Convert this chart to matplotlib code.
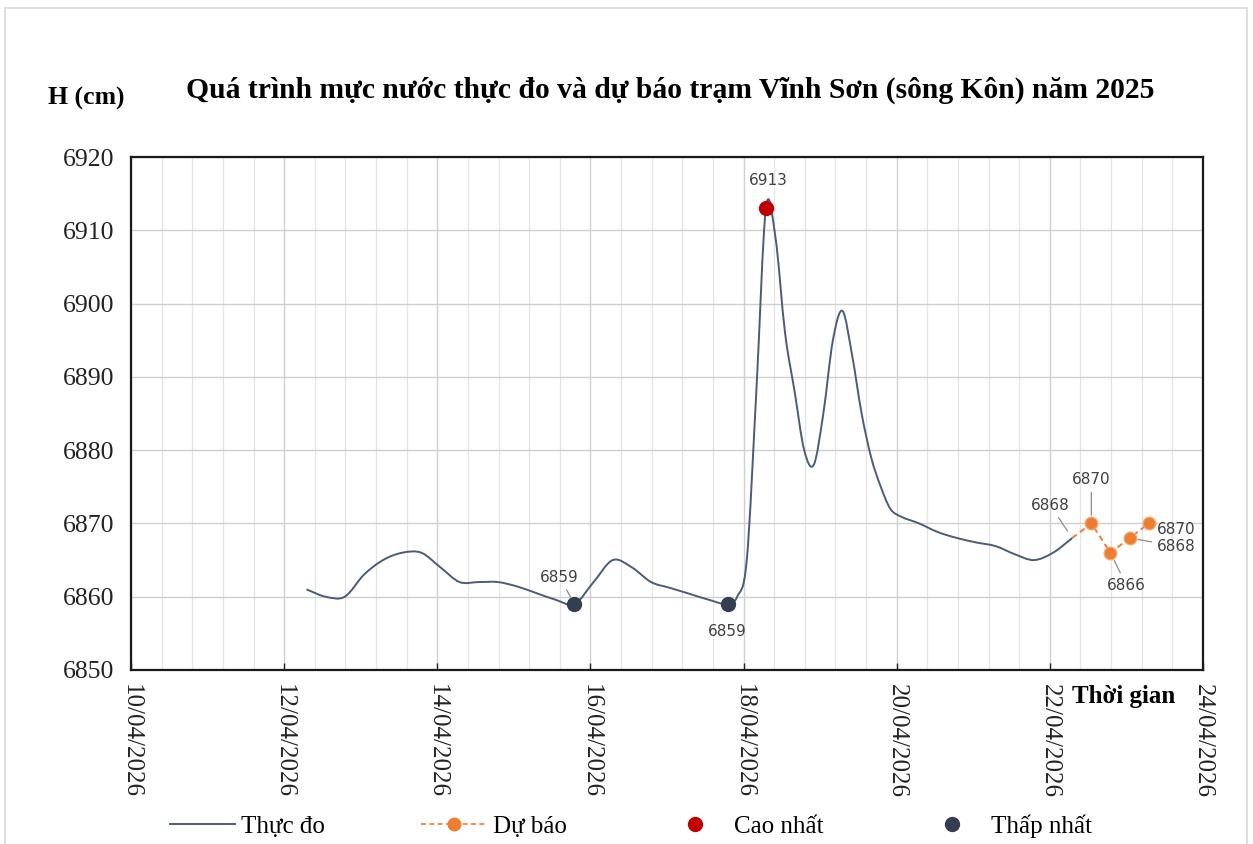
import numpy as np
import matplotlib
matplotlib.use("Agg")
import matplotlib.pyplot as plt
import matplotlib.dates as mdates
from matplotlib.path import Path
from matplotlib.patches import PathPatch, Rectangle
from matplotlib.lines import Line2D
from matplotlib.ticker import FixedLocator, FuncFormatter
from datetime import datetime

# ---------------- data ----------------
obs_times = [
    "2026-04-12 07:00", "2026-04-12 13:00", "2026-04-12 19:00",
    "2026-04-13 01:00", "2026-04-13 07:00", "2026-04-13 13:00", "2026-04-13 19:00",
    "2026-04-14 01:00", "2026-04-14 07:00", "2026-04-14 13:00", "2026-04-14 19:00",
    "2026-04-15 01:00", "2026-04-15 07:00", "2026-04-15 13:00", "2026-04-15 19:00",
    "2026-04-16 01:00", "2026-04-16 07:00", "2026-04-16 13:00", "2026-04-16 19:00",
    "2026-04-17 01:00", "2026-04-17 07:00", "2026-04-17 13:00", "2026-04-17 19:00",
    "2026-04-17 22:00", "2026-04-18 01:00", "2026-04-18 04:00", "2026-04-18 07:00",
    "2026-04-18 10:00", "2026-04-18 13:00", "2026-04-18 16:00", "2026-04-18 19:00",
    "2026-04-18 22:00", "2026-04-19 01:00", "2026-04-19 04:00", "2026-04-19 07:00",
    "2026-04-19 10:00", "2026-04-19 13:00", "2026-04-19 16:00", "2026-04-19 19:00",
    "2026-04-19 22:00", "2026-04-20 01:00",
    "2026-04-20 07:00", "2026-04-20 13:00", "2026-04-20 19:00",
    "2026-04-21 01:00", "2026-04-21 07:00", "2026-04-21 13:00", "2026-04-21 19:00",
    "2026-04-22 01:00", "2026-04-22 07:00",
]
obs_values = [
    6861, 6860, 6860,
    6863, 6865, 6866, 6866,
    6864, 6862, 6862, 6862,
    6861.4, 6860.5, 6859.6, 6859,
    6862, 6865, 6864, 6862,
    6861.2, 6860.4, 6859.6, 6859,
    6860, 6865, 6888, 6913,
    6909, 6896, 6888, 6880,
    6878, 6885, 6895, 6899,
    6893, 6885, 6879, 6875,
    6872, 6871,
    6870, 6868.8, 6868,
    6867.4, 6866.9, 6865.8, 6865,
    6866, 6868,
]
fc_times = ["2026-04-22 07:00", "2026-04-22 13:00", "2026-04-22 19:00",
            "2026-04-23 01:00", "2026-04-23 07:00"]
fc_values = [6868, 6870, 6866, 6868, 6870]

title_text = "Quá trình mực nước thực đo và dự báo trạm Vĩnh Sơn (sông Kôn) năm 2025"
y_label = "H (cm)"
x_label = "Thời gian"
legend_labels = ["Thực đo", "Dự báo", "Cao nhất", "Thấp nhất"]
x_start, x_end = "2026-04-10", "2026-04-24"
y_ticks = [6850, 6860, 6870, 6880, 6890, 6900, 6910, 6920]

# ---------------- style ----------------
SERIF = ["Liberation Serif", "DejaVu Serif"]
plt.rcParams["font.family"] = SERIF
OBS_COLOR = "#4A5B7C"
FC_COLOR = "#ED7D31"
MAX_COLOR = "#C00000"
MIN_COLOR = "#333F50"
LBL_COLOR = "#404040"

def to_num(lst):
    return np.array([mdates.date2num(datetime.strptime(s, "%Y-%m-%d %H:%M")) for s in lst])

ox = to_num(obs_times)
oy = np.array(obs_values, dtype=float)
fx = to_num(fc_times)
fy = np.array(fc_values, dtype=float)

fig = plt.figure(figsize=(12.53, 8.44), dpi=100)
ax = fig.add_axes([131/1253, 1-670/844, (1203-131)/1253, (670-157)/844])

xmin = mdates.date2num(datetime.strptime(x_start, "%Y-%m-%d"))
xmax = mdates.date2num(datetime.strptime(x_end, "%Y-%m-%d"))
ax.set_xlim(xmin, xmax)
ax.set_ylim(y_ticks[0], y_ticks[-1])

# grid
ax.xaxis.set_major_locator(FixedLocator(np.arange(xmin, xmax + 0.01, 2)))
ax.xaxis.set_minor_locator(FixedLocator(np.arange(xmin, xmax + 0.01, 0.4)))
ax.yaxis.set_major_locator(FixedLocator(y_ticks))
ax.grid(which="major", axis="both", color="#D0D0D0", linewidth=1.0)
ax.grid(which="minor", axis="x", color="#E4E4E4", linewidth=0.9)
ax.set_axisbelow(True)

ax.xaxis.set_major_formatter(FuncFormatter(lambda v, p: mdates.num2date(v).strftime("%d/%m/%Y")))
ax.tick_params(axis="x", which="major", direction="in", length=5, width=1, labelsize=18,
               labelrotation=-90, pad=10, colors="#222222")
ax.tick_params(axis="x", which="minor", length=0)
ax.tick_params(axis="y", which="major", length=0, labelsize=18.5, pad=12, colors="#222222")
for lab in ax.get_xticklabels():
    lab.set_va("top")
    lab.set_ha("center")
for sp in ax.spines.values():
    sp.set_color("#1A1A1A")
    sp.set_linewidth(1.6)

# smooth observed line (cubic Hermite -> Bezier)
n = len(ox)
m = np.zeros(n)
m[0] = (oy[1]-oy[0])/(ox[1]-ox[0])
m[-1] = (oy[-1]-oy[-2])/(ox[-1]-ox[-2])
for i in range(1, n-1):
    m[i] = (oy[i+1]-oy[i-1])/(ox[i+1]-ox[i-1])
verts = [(ox[0], oy[0])]
codes = [Path.MOVETO]
for i in range(n-1):
    h = ox[i+1]-ox[i]
    verts += [(ox[i]+h/3, oy[i]+m[i]*h/3), (ox[i+1]-h/3, oy[i+1]-m[i+1]*h/3), (ox[i+1], oy[i+1])]
    codes += [Path.CURVE4]*3
ax.add_patch(PathPatch(Path(verts, codes), facecolor="none", edgecolor=OBS_COLOR, linewidth=1.4, zorder=3))

# forecast
ax.plot(fx, fy, linestyle=(0, (3, 2)), color=FC_COLOR, linewidth=1.4, zorder=4)
ax.plot(fx[1:], fy[1:], linestyle="none", marker="o", markersize=9, color=FC_COLOR,
        markeredgecolor="#F4A66E", markeredgewidth=1.0, zorder=5)

# max / min
imax = int(np.argmax(oy))
ax.plot([ox[imax]], [oy[imax]], "o", color=MAX_COLOR, markersize=10, zorder=6)
imins = np.where(oy == oy.min())[0]
ax.plot(ox[imins], oy[imins], "o", color=MIN_COLOR, markersize=10, zorder=6)

lbl_kw = dict(textcoords="offset pixels", fontsize=11, color=LBL_COLOR, ha="center", va="center",
              family=["DejaVu Sans"])
arrow = dict(arrowstyle="-", color="#8C8C8C", lw=0.9, shrinkA=2, shrinkB=6)

ax.annotate(f"{int(oy[imax])}", (ox[imax], oy[imax]), xytext=(2, 28), **lbl_kw)
ax.annotate(f"{int(oy[imins[0]])}", (ox[imins[0]], oy[imins[0]]), xytext=(-15, 27),
            arrowprops=arrow, **lbl_kw)
ax.annotate(f"{int(oy[imins[1]])}", (ox[imins[1]], oy[imins[1]]), xytext=(0, -27), **lbl_kw)

fc_offsets = [(-22, 33), (0, 44), (16, -33), (47, -8), (27, -6)]
for xv, yv, off in zip(fx, fy, fc_offsets):
    ax.annotate(f"{int(yv)}", (xv, yv), xytext=off, arrowprops=arrow, **lbl_kw)

# texts
fig.text(670/1253, 1-90/844, title_text, ha="center", va="center", fontsize=21.3, fontweight="bold",
         family=SERIF)
fig.text(86/1253, 1-98/844, y_label, ha="center", va="center", fontsize=18.5, fontweight="bold",
         family=SERIF)
fig.text(1175/1253, 1-697/844, x_label, ha="right", va="center", fontsize=18, fontweight="bold",
         family=SERIF)

# legend
handles = [
    Line2D([], [], color=OBS_COLOR, linewidth=1.4),
    Line2D([], [], color=FC_COLOR, linewidth=1.2, linestyle=(0, (3, 2)), marker="o", markersize=9),
    Line2D([], [], color=MAX_COLOR, linestyle="none", marker="o", markersize=10),
    Line2D([], [], color=MIN_COLOR, linestyle="none", marker="o", markersize=10),
]
fig.legend(handles, legend_labels, loc="center", bbox_to_anchor=(631/1253, 1-826/844), ncol=4,
           frameon=False, handlelength=2.6, handletextpad=0.25, columnspacing=3.85,
           prop={"family": SERIF, "size": 18})

# outer border
fig.patches.append(Rectangle((5/1253, -0.02), (1247-5)/1253, 1-8/844+0.02, transform=fig.transFigure,
                             fill=False, edgecolor="#D9D9D9", linewidth=1.2))

fig.savefig("out.png", dpi=100)
